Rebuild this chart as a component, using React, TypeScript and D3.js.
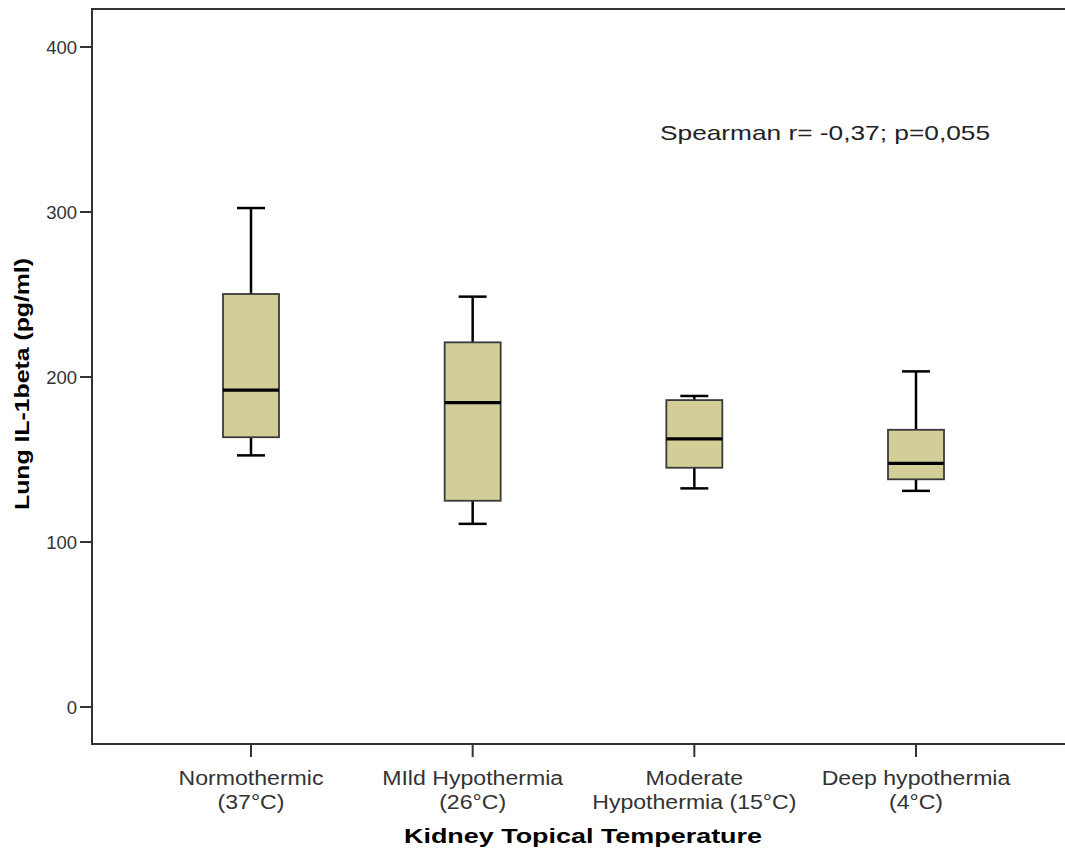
import * as d3 from "d3";

const categories = ["Normothermic", "Mild", "Moderate", "Deep"];
const categoryLines = [
  ["Normothermic", "(37°C)"],
  ["MIld Hypothermia", "(26°C)"],
  ["Moderate", "Hypothermia (15°C)"],
  ["Deep hypothermia", "(4°C)"],
];
const whiskerLow = [152.5, 111, 132.5, 131];
const q1 = [163.5, 125, 145, 138];
const median = [192, 184.5, 162.5, 147.7];
const q3 = [250.3, 221, 186, 168];
const whiskerHigh = [302.4, 248.7, 188.5, 203.4];
const yTicks = [0, 100, 200, 300, 400];

const W = 1065;
const H = 861;
const axisX = 92;
const axisBottom = 744;
const axisTop = 9;

export default function App() {
  const y = d3.scaleLinear().domain([0, 400]).range([707, 47]);
  const x = d3.scalePoint<string>().domain(categories).range([251, 916]);
  const boxW = 56;
  const capW = 28;
  const font = "Arial, 'Liberation Sans', sans-serif";

  return (
    <svg
      width={W}
      height={H}
      style={{ position: "absolute", left: 0, top: 0, background: "#fff" }}
      fontFamily={font}
    >
      {/* frame */}
      <line x1={axisX} y1={axisTop} x2={W} y2={axisTop} stroke="#333" strokeWidth={2} />
      <line x1={axisX} y1={axisTop - 1} x2={axisX} y2={axisBottom + 1} stroke="#333" strokeWidth={2} />
      <line x1={axisX} y1={axisBottom} x2={W} y2={axisBottom} stroke="#333" strokeWidth={2} />

      {yTicks.map((t) => (
        <g key={t}>
          <line x1={axisX - 12} x2={axisX} y1={y(t)} y2={y(t)} stroke="#333" strokeWidth={2} />
          <text x={77} y={y(t) + 7} textAnchor="end" fontSize={18.5} fill="#333">
            {t}
          </text>
        </g>
      ))}

      {categories.map((c, i) => {
        const cx = x(c) ?? 0;
        return (
          <g key={c}>
            <line x1={cx} x2={cx} y1={axisBottom} y2={axisBottom + 13} stroke="#333" strokeWidth={2} />
            {categoryLines[i].map((ln, j) => (
              <text
                key={j}
                transform={`translate(${cx},${785 + j * 24}) scale(1.1,1)`}
                textAnchor="middle"
                fontSize={21}
                fill="#333"
              >
                {ln}
              </text>
            ))}
            <line x1={cx} x2={cx} y1={y(whiskerHigh[i])} y2={y(q3[i])} stroke="#000" strokeWidth={2.5} />
            <line x1={cx} x2={cx} y1={y(q1[i])} y2={y(whiskerLow[i])} stroke="#000" strokeWidth={2.5} />
            <line
              x1={cx - capW / 2}
              x2={cx + capW / 2}
              y1={y(whiskerHigh[i])}
              y2={y(whiskerHigh[i])}
              stroke="#000"
              strokeWidth={2.5}
            />
            <line
              x1={cx - capW / 2}
              x2={cx + capW / 2}
              y1={y(whiskerLow[i])}
              y2={y(whiskerLow[i])}
              stroke="#000"
              strokeWidth={2.5}
            />
            <rect
              x={cx - boxW / 2}
              y={y(q3[i])}
              width={boxW}
              height={y(q1[i]) - y(q3[i])}
              fill="#D3CE98"
              stroke="#3a3a3a"
              strokeWidth={1.8}
            />
            <line
              x1={cx - boxW / 2}
              x2={cx + boxW / 2}
              y1={y(median[i])}
              y2={y(median[i])}
              stroke="#000"
              strokeWidth={3.2}
            />
          </g>
        );
      })}

      <text x={660} y={140} fontSize={21} fill="#222" textLength={330} lengthAdjust="spacingAndGlyphs">
        Spearman r= -0,37; p=0,055
      </text>

      <text
        transform="translate(29,384) rotate(-90)"
        textAnchor="middle"
        fontSize={21}
        fontWeight="bold"
        fill="#000"
        textLength={252}
        lengthAdjust="spacingAndGlyphs"
      >
        Lung IL-1beta (pg/ml)
      </text>

      <text
        x={583}
        y={843}
        textAnchor="middle"
        fontSize={21}
        fontWeight="bold"
        fill="#000"
        textLength={358}
        lengthAdjust="spacingAndGlyphs"
      >
        Kidney Topical Temperature
      </text>
    </svg>
  );
}
